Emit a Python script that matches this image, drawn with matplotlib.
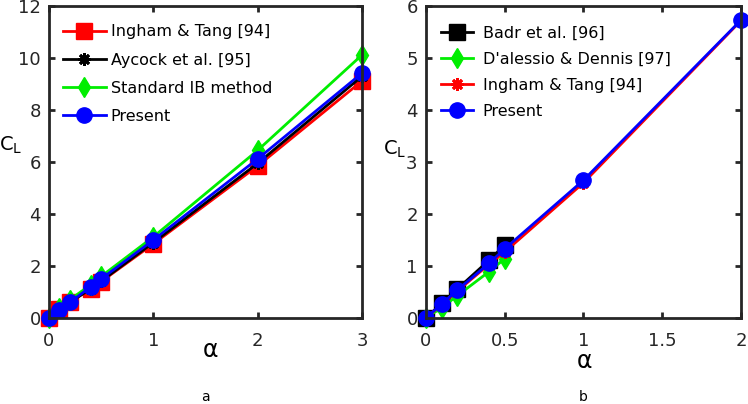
import numpy as np
import matplotlib.pyplot as plt

plt.rcParams['font.family'] = ['DejaVu Sans']

# panel a
alpha_a = [0, 0.1, 0.2, 0.4, 0.5, 1, 2, 3]
ingham_a = [0, 0.33, 0.62, 1.12, 1.4, 2.85, 5.85, 9.12]
aycock_a = [0, 0.3, 0.6, 1.12, 1.42, 2.9, 5.95, 9.3]
std_ib_a = [0, 0.38, 0.7, 1.28, 1.6, 3.12, 6.45, 10.12]
present_a = [0, 0.3, 0.6, 1.2, 1.5, 3.0, 6.12, 9.42]

# panel b
alpha_b = [0, 0.1, 0.2, 0.4, 0.5, 1, 2]
badr_b = [0, 0.28, 0.56, 1.11, 1.4]
dalessio_b = [0, 0.2, 0.43, 0.89, 1.14]
ingham_b = [0, 0.26, 0.52, 1.03, 1.27, 2.6, 5.72]
present_b = [0, 0.27, 0.54, 1.05, 1.33, 2.65, 5.73]

dark = '#262626'
green = '#00ee00'
star = (8, 2, 0)

fig = plt.figure(figsize=(7.48, 4.04), dpi=100)
ax1 = fig.add_axes([0.0655, 0.213, 0.4185, 0.772])
ax2 = fig.add_axes([0.5695, 0.213, 0.4211, 0.772])

ax1.plot(alpha_a, ingham_a, '-s', color='red', lw=2, ms=12, clip_on=False, label='Ingham & Tang [94]')
ax1.plot(alpha_a, aycock_a, '-', marker=star, color='black', mew=2, lw=2, ms=9, clip_on=False, label='Aycock et al. [95]')
ax1.plot(alpha_a, std_ib_a, '-d', color=green, lw=2, ms=10, clip_on=False, label='Standard IB method')
ax1.plot(alpha_a, present_a, '-o', color='blue', lw=2, ms=11, clip_on=False, label='Present')
ax1.set_xlim(0, 3)
ax1.set_ylim(0, 12)
ax1.set_xticks([0, 1, 2, 3])
ax1.set_yticks(np.arange(0, 13, 2))

n = len(badr_b)
ax2.plot(alpha_b[:n], badr_b, '-s', color='black', lw=2, ms=12, clip_on=False, label='Badr et al. [96]')
ax2.plot(alpha_b[:n], dalessio_b, '-d', color=green, lw=2, ms=10, clip_on=False, label="D'alessio & Dennis [97]")
ax2.plot(alpha_b, ingham_b, '-', marker=star, color='red', mew=2, lw=2, ms=9, clip_on=False, label='Ingham & Tang [94]')
ax2.plot(alpha_b, present_b, '-o', color='blue', lw=2, ms=11, clip_on=False, label='Present')
ax2.set_xlim(0, 2)
ax2.set_ylim(0, 6)
ax2.set_xticks([0, 0.5, 1, 1.5, 2])
ax2.set_xticklabels(['0', '0.5', '1', '1.5', '2'])
ax2.set_yticks(range(0, 7))

for ax in (ax1, ax2):
    for s in ax.spines.values():
        s.set_linewidth(2)
        s.set_color(dark)
    ax.tick_params(direction='in', top=True, right=True, length=4, width=2,
                   color=dark, labelcolor=dark, labelsize=13, pad=6)
    ax.tick_params(axis='x', pad=10)

ax1.legend(loc='upper left', bbox_to_anchor=(0, 0.9855), frameon=False, fontsize=11.5,
           handlelength=2.7, handletextpad=0.3, borderaxespad=0.47, labelspacing=0.82)
ax2.legend(loc='upper left', bbox_to_anchor=(0, 0.984), frameon=False, fontsize=11.5,
           handlelength=2.0, handletextpad=0.6, borderaxespad=0.54, labelspacing=0.68)

fig.text(210 / 748, 1 - 350 / 404, r'$\mathregular{\alpha}$', fontsize=17, ha='center', va='center')
fig.text(584 / 748, 1 - 361 / 404, r'$\mathregular{\alpha}$', fontsize=17, ha='center', va='center')
fig.text(0.014, 0.64, r'$\mathregular{C_L}$', fontsize=14, ha='center', va='center')
fig.text(0.527, 0.63, r'$\mathregular{C_L}$', fontsize=14, ha='center', va='center')
fig.text(205 / 748, 1 - 397 / 404, 'a', fontsize=10, ha='center', va='center')
fig.text(583 / 748, 1 - 397 / 404, 'b', fontsize=10, ha='center', va='center')

fig.savefig('out.png', dpi=100)
